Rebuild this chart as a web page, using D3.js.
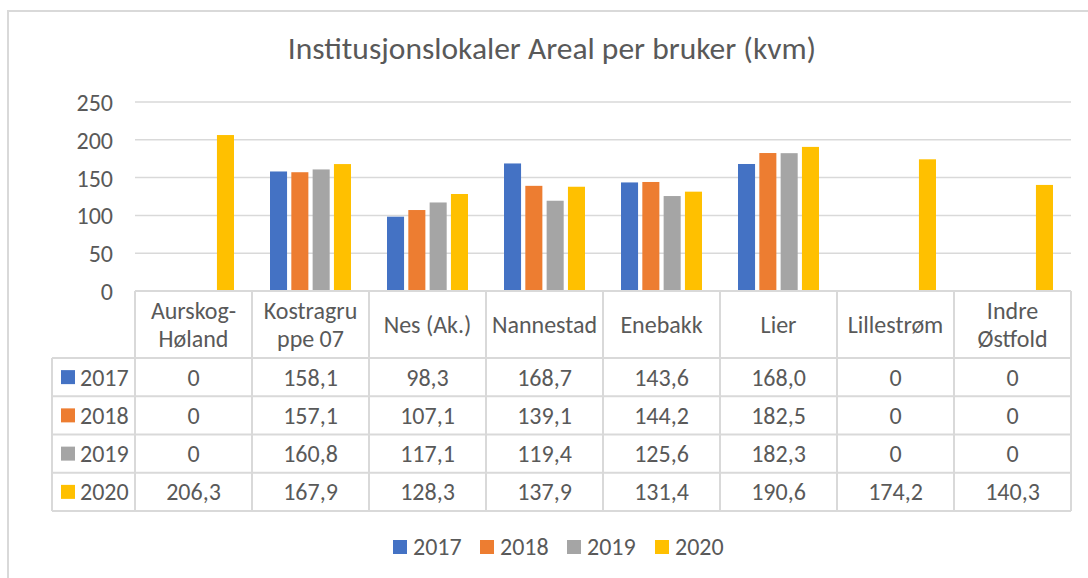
<!DOCTYPE html>
<html><head><meta charset="utf-8">
<script src="https://cdn.jsdelivr.net/npm/d3@7"></script>
<style>
html,body{margin:0;padding:0;background:#fff;}
svg{display:block;}
text{font-family:Carlito,Lato,"Liberation Sans",sans-serif;fill:#595959;}
</style></head>
<body>
<svg id="c" width="1088" height="578"></svg>
<script>
const title = "Institusjonslokaler Areal per bruker (kvm)";
const categories = ["Aurskog-Høland","Kostragruppe 07","Nes (Ak.)","Nannestad","Enebakk","Lier","Lillestrøm","Indre Østfold"];
const categoryLines = [["Aurskog-","Høland"],["Kostragru","ppe 07"],["Nes (Ak.)"],["Nannestad"],["Enebakk"],["Lier"],["Lillestrøm"],["Indre","Østfold"]];
const seriesNames = ["2017","2018","2019","2020"];
const v2017 = [0,158.1,98.3,168.7,143.6,168.0,0,0];
const v2018 = [0,157.1,107.1,139.1,144.2,182.5,0,0];
const v2019 = [0,160.8,117.1,119.4,125.6,182.3,0,0];
const v2020 = [206.3,167.9,128.3,137.9,131.4,190.6,174.2,140.3];
const yTicks = [0,50,100,150,200,250];
const colors = ["#4472C4","#ED7D31","#A5A5A5","#FFC000"];

const seriesValues = [v2017,v2018,v2019,v2020];
const svg = d3.select("#c");
const L=135, R=1071, Y0=291, Ytop=102;
const tableLeft=52, headerBottom=358, rowH=38.25;
const grid="#d9d9d9";
const fs = "24px";

// outer border (top & left visible)
svg.append("path").attr("d","M8,578 V11 H1088").attr("fill","none").attr("stroke",grid).attr("stroke-width",2);

svg.append("text").attr("x",552).attr("y",59).attr("text-anchor","middle")
  .style("font-size","31.5px").text(title);

const x0 = d3.scaleBand().domain(categories).range([L,R]).padding(0);
const x1 = d3.scaleBand().domain(seriesNames).range([0,x0.bandwidth()]).paddingInner(0.2).paddingOuter(0.845);
const y = d3.scaleLinear().domain([0,250]).range([Y0,Ytop]);

// gridlines
svg.append("g").selectAll("line").data(yTicks.filter(d=>d>0)).join("line")
  .attr("x1",L).attr("x2",R).attr("y1",d=>y(d)).attr("y2",d=>y(d))
  .attr("stroke",grid).attr("stroke-width",1.5);

// y axis labels
const yAxis = d3.axisLeft(y).tickValues(yTicks).tickSize(0).tickPadding(22);
const ga = svg.append("g").attr("transform",`translate(${L},0)`).call(yAxis);
ga.select(".domain").remove();
ga.selectAll("text").style("font-size",fs).style("font-family","Carlito,Lato,sans-serif").attr("fill","#595959").attr("dy","0.35em");

// bars
const groups = svg.append("g").selectAll("g").data(categories).join("g")
  .attr("transform",d=>`translate(${x0(d)},0)`);
groups.selectAll("rect").data((d,i)=>seriesNames.map((s,j)=>({s,j,v:seriesValues[j][i]})))
  .join("rect")
  .attr("x",d=>x1(d.s)).attr("width",x1.bandwidth())
  .attr("y",d=>y(d.v)).attr("height",d=>Y0-y(d.v))
  .attr("fill",d=>colors[d.j]);

// table
const tg = svg.append("g");
const tableBottom = headerBottom + rowH*seriesNames.length;
const lineStyle = sel=>sel.attr("stroke",grid).attr("stroke-width",2).attr("fill","none");
tg.append("line").attr("x1",L).attr("x2",R).attr("y1",Y0).attr("y2",Y0).call(lineStyle);
for(let r=0;r<=seriesNames.length;r++){
  const yy = headerBottom + r*rowH;
  tg.append("line").attr("x1",tableLeft).attr("x2",R).attr("y1",yy).attr("y2",yy).call(lineStyle);
}
tg.append("line").attr("x1",tableLeft).attr("x2",tableLeft).attr("y1",headerBottom).attr("y2",tableBottom).call(lineStyle);
categories.concat([null]).forEach((c,i)=>{
  const xx = c===null ? R : x0(c);
  tg.append("line").attr("x1",xx).attr("x2",xx).attr("y1",Y0).attr("y2",tableBottom).call(lineStyle);
});
categories.forEach((c,i)=>{
  const lines = categoryLines[i];
  const cx = x0(c)+x0.bandwidth()/2;
  const mid = (Y0+headerBottom)/2;
  const lh = 28.5;
  lines.forEach((ln,k)=>{
    tg.append("text").attr("x",cx).attr("y",mid+(k-(lines.length-1)/2)*lh).attr("dy","0.35em")
      .attr("text-anchor","middle").style("font-size",fs).text(ln);
  });
});
const fmt = v => v===0 ? "0" : v.toFixed(1).replace(".",",");
seriesNames.forEach((s,j)=>{
  const cy = headerBottom + j*rowH + rowH/2;
  tg.append("rect").attr("x",61).attr("y",cy-7).attr("width",14).attr("height",14).attr("fill",colors[j]);
  tg.append("text").attr("x",80).attr("y",cy).attr("dy","0.35em").style("font-size",fs).text(s);
  categories.forEach((c,i)=>{
    tg.append("text").attr("x",x0(c)+x0.bandwidth()/2).attr("y",cy).attr("dy","0.35em")
      .attr("text-anchor","middle").style("font-size",fs).text(fmt(seriesValues[j][i]));
  });
});

// legend
const legX = [393,480,567,655];
const lg = svg.append("g");
seriesNames.forEach((s,j)=>{
  lg.append("rect").attr("x",legX[j]).attr("y",540).attr("width",14).attr("height",14).attr("fill",colors[j]);
  lg.append("text").attr("x",legX[j]+20).attr("y",547).attr("dy","0.35em").style("font-size",fs).text(s);
});
</script>
</body></html>
